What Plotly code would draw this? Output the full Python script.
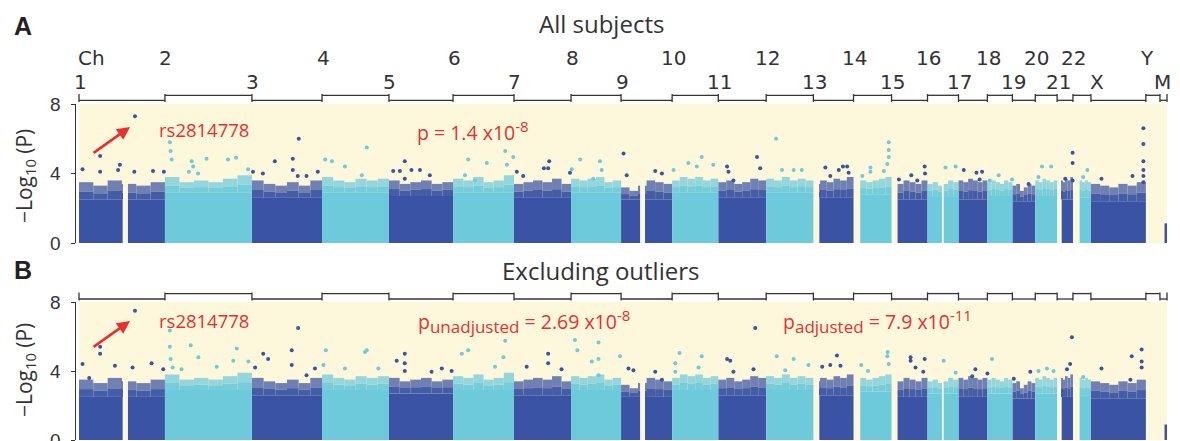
import plotly.graph_objects as go

# ---------------- data ----------------
chrom_names = ['1', '2', '3', '4', '5', '6', '7', '8', '9', '10', '11', '12', '13',
               '14', '15', '16', '17', '18', '19', '20', '21', '22', 'X', 'Y', 'M']
chrom_sizes_mb = [244, 247, 199, 190, 182, 173, 162, 142, 145, 131, 136, 134, 114,
                  108, 102, 88, 82, 71, 65, 62, 45, 51, 156, 40, 20]

# regions without plotted SNPs (Mb)
gap_chr = ['1', '9', '13', '14', '15', '16', '21', '22', 'Y', 'M']
gap_start = [124, 54, 0, 0, 0, 41, 0, 0, 0, 0]
gap_end = [139, 68, 17, 19, 17, 46, 13, 19, 40, 13]

# dense body of SNPs: solid level and ragged upper fringe (6 bins per chromosome)
core_A = [2.5, 2.9, 2.6, 2.9, 2.7, 2.9, 2.6, 2.9, 2.5, 2.9, 2.6, 2.9, 2.6,
          2.8, 2.5, 2.7, 2.5, 2.7, 2.4, 2.7, 2.5, 2.6, 2.4, 0, 1.13]
core_B = [2.5, 2.9, 2.6, 2.9, 2.7, 2.9, 2.6, 2.9, 2.5, 2.9, 2.6, 2.9, 2.6,
          2.8, 2.5, 2.7, 2.5, 2.7, 2.4, 2.7, 2.5, 2.6, 2.4, 0, 0.9]
fringe_top = [
    [3.5, 3.3, 3.6, 3.4, 3.3, 3.5], [3.8, 3.5, 3.6, 3.5, 3.7, 3.9],
    [3.6, 3.4, 3.3, 3.5, 3.3, 3.6], [3.8, 3.6, 3.5, 3.7, 3.6, 3.7],
    [3.6, 3.4, 3.5, 3.6, 3.4, 3.5], [3.7, 3.6, 3.8, 3.5, 3.6, 3.9],
    [3.4, 3.5, 3.6, 3.5, 3.7, 3.4], [3.7, 3.6, 3.7, 3.8, 3.5, 3.6],
    [3.2, 3.0, 3.3, 3.6, 3.5, 3.4], [3.6, 3.8, 3.7, 3.8, 3.6, 3.7],
    [3.5, 3.6, 3.4, 3.5, 3.7, 3.6], [3.7, 3.6, 3.8, 3.6, 3.7, 3.6],
    [3.4, 3.6, 3.5, 3.7, 3.6, 3.8], [3.3, 3.6, 3.5, 3.6, 3.7, 3.8],
    [3.5, 3.4, 3.6, 3.5, 3.4, 3.6], [3.4, 3.5, 3.3, 3.4, 3.6, 3.5],
    [3.6, 3.5, 3.7, 3.6, 3.5, 3.6], [3.5, 3.6, 3.5, 3.4, 3.6, 3.5],
    [3.3, 3.4, 3.0, 3.2, 3.4, 3.3], [3.6, 3.5, 3.7, 3.6, 3.5, 3.6],
    [3.5, 3.6, 3.5, 3.7, 3.6, 3.8], [3.4, 3.5, 3.6, 3.5, 3.6, 3.5],
    [3.4, 3.3, 3.2, 3.4, 3.3, 3.5], [0, 0, 0, 0, 0, 0], [0, 0, 0, 0, 0, 0]]

# individual SNPs standing above the body - panel A (all subjects)
A_chr = ['1'] * 9 + ['2'] * 11 + ['3'] * 9 + ['4'] * 5 + ['5'] * 7 + ['6'] * 7 + ['7'] * 6 + \
        ['8'] * 5 + ['9'] * 4 + ['10'] * 5 + ['11'] * 5 + ['12'] * 4 + ['13'] * 6 + ['14'] * 8 + \
        ['15'] * 5 + ['16'] * 2 + ['17'] * 4 + ['18'] * 3 + ['19'] * 1 + ['20'] * 3 + ['21'] * 4 + \
        ['22'] * 2 + ['X'] * 8
A_pos = [10, 60, 60, 116, 111, 159, 157, 210, 241,
         14, 16, 19, 76, 118, 179, 202, 236, 80, 68, 94,
         65, 116, 116, 133, 130, 155, 187, 3, 31,
         9, 28, 65, 127, 113,
         45, 12, 31, 64, 88, 116, 45,
         43, 96, 148, 153, 171, 34, 62,
         8, 100, 85, 97, 159, 26,
         26, 2, 82, 87, 63,
         7, 16, 97, 116,
         4, 46, 84, 70, 117,
         25, 29, 110, 119, 43,
         28, 45, 78, 101,
         34, 72, 84, 96, 100, 48,
         25, 48, 48, 100, 100, 100, 96, 86,
         21, 56, 73, 94, 95,
         51, 80,
         15, 51, 67, 60,
         32, 7, 70,
         46,
         19, 45, 9,
         44, 44, 23, 44,
         29, 41,
         30, 118, 149, 149, 149, 149, 149, 149]
A_logp = [4.25, 5.0, 4.1, 4.5, 4.2, 7.3, 4.1, 4.15, 4.1,
          5.8, 5.3, 4.8, 4.7, 4.85, 4.8, 4.9, 4.25, 4.4, 4.1, 4.0,
          4.7, 4.85, 4.2, 6.0, 3.85, 3.85, 4.1, 4.1, 4.0,
          4.8, 4.7, 4.4, 5.5, 3.9,
          4.7, 4.15, 4.15, 4.2, 4.2, 3.9, 3.7,
          4.8, 4.6, 5.3, 4.5, 4.95, 3.9, 3.6,
          4.1, 4.7, 4.3, 4.3, 4.05, 3.85,
          4.8, 4.25, 4.7, 4.2, 3.7,
          5.15, 3.9, 4.15, 4.0,
          4.2, 4.6, 4.95, 4.4, 4.5,
          4.4, 4.1, 4.95, 4.3, 3.6,
          6.0, 4.2, 4.2, 4.2,
          4.35, 4.2, 4.4, 4.4, 4.05, 3.85,
          3.85, 4.35, 4.1, 5.8, 5.35, 4.95, 4.55, 4.15,
          3.65, 3.9, 3.6, 4.4, 4.0,
          4.35, 4.4,
          4.2, 4.05, 4.1, 3.65,
          3.9, 3.6, 3.65,
          3.4,
          4.4, 4.4, 3.8,
          5.2, 4.6, 3.7, 3.6,
          3.8, 4.2,
          3.7, 3.85, 6.6, 5.7, 4.7, 4.2, 3.85, 3.5]

# panel B (excluding outliers)
B_chr = ['1'] * 9 + ['2'] * 11 + ['3'] * 8 + ['4'] * 6 + ['5'] * 7 + ['6'] * 5 + ['7'] * 4 + \
        ['8'] * 7 + ['9'] * 4 + ['10'] * 5 + ['11'] * 5 + ['12'] * 4 + ['13'] * 4 + ['14'] * 5 + \
        ['15'] * 5 + ['16'] * 2 + ['17'] * 3 + ['18'] * 1 + ['19'] * 2 + ['20'] * 3 + ['21'] * 3 + \
        ['22'] * 1 + ['X'] * 6
B_pos = [10, 60, 60, 29, 102, 159, 152, 206, 239,
         14, 14, 16, 73, 95, 204, 194, 22, 47, 147, 237,
         32, 46, 9, 113, 113, 131, 179, 155,
         11, 4, 65, 122, 127, 160,
         45, 45, 45, 22, 121, 150, 178,
         43, 25, 148, 143, 119,
         97, 97, 36, 135,
         11, 18, 78, 78, 59, 139, 78,
         21, 35, 97, 116,
         21, 9, 84, 75, 9,
         25, 34, 105, 100, 43,
         30, 78, 120, 54,
         67, 77, 25, 48,
         97, 96, 100, 22, 41,
         54, 54, 94, 68, 90,
         46, 80,
         48, 39, 82,
         13,
         51, 4,
         9, 33, 52,
         42, 37, 28,
         29,
         30, 116, 144, 144, 144, 112]
B_logp = [4.4, 5.4, 5.0, 3.6, 4.3, 7.5, 4.2, 4.45, 4.1,
          6.35, 5.4, 4.7, 5.5, 4.8, 5.3, 4.6, 4.2, 4.1, 4.25, 4.55,
          5.0, 4.7, 4.2, 5.2, 4.35, 6.5, 4.15, 3.75,
          5.2, 4.35, 4.15, 5.1, 5.2, 4.15,
          5.0, 4.45, 4.0, 4.6, 3.95, 4.15, 4.0,
          5.2, 5.0, 5.75, 4.8, 4.25,
          5.0, 4.45, 4.25, 4.1,
          5.8, 5.2, 5.65, 4.7, 4.55, 4.85, 3.75,
          4.15, 4.05, 3.95, 3.5,
          5.05, 4.45, 4.85, 4.2, 3.95,
          4.7, 4.6, 6.5, 4.1, 3.95,
          4.85, 4.7, 4.35, 4.05,
          4.9, 4.3, 4.25, 4.35,
          5.1, 4.85, 4.4, 4.35, 4.0,
          4.8, 4.6, 4.7, 4.2, 3.95,
          4.6, 3.9,
          4.1, 3.7, 3.85,
          4.7,
          3.95, 3.55,
          4.0, 4.15, 4.0,
          5.95, 4.4, 4.1,
          3.65,
          4.15, 4.85, 5.25, 4.55, 4.2, 3.5]

lead_snp = 'rs2814778'
lead_chr = '1'
lead_pos = 159
y_ticks = [0, 4, 8]

# ---------------- styling / layout ----------------
DARK = '#3A53A4'
LIGHT = '#6DCADB'
CREAM = '#FDF8DC'
RED = '#E8302E'
INK = '#333333'
W, H = 1180, 441

# mapping from screen pixels (as photographed; page has an 8px body margin) to paper fractions
SX0, SXS = 8.0, 1180.0
SY0, SYS = 8.0, 441.0


def fx(px):
    return (px - SX0) / SXS


def fy(py):
    return min(1.0, max(0.0, 1 - (py - SY0) / SYS))


offsets = []
acc = 0
for s in chrom_sizes_mb:
    offsets.append(acc)
    acc += s
total = acc
idx = {n: i for i, n in enumerate(chrom_names)}

px0, px1 = 79, 1167            # screen x of genome start / end
scale = (px1 - px0) / total
x_range = [-3 / scale, total + 2 / scale]
x_domain = [fx(px0 - 3), fx(px1 + 2)]

panels = {
    'A': dict(xa='x', ya='y', ydom=[fy(243), fy(104)], core=core_A,
              chr=A_chr, pos=A_pos, logp=A_logp, br_up=95.3, br_low=100.3,
              ytitle=176, lab=130, arrow_dy=-0.62),
    'B': dict(xa='x2', ya='y2', ydom=[fy(440), fy(302)], core=core_B,
              chr=B_chr, pos=B_pos, logp=B_logp, br_up=293.6, br_low=299.0,
              ytitle=370, lab=320, arrow_dy=-0.6),
}


def segments(name, size):
    gs = sorted([(s, e) for c, s, e in zip(gap_chr, gap_start, gap_end) if c == name])
    segs, cur = [], 0
    for s, e in gs:
        if s > cur:
            segs.append((cur, s))
        cur = max(cur, e)
    if cur < size:
        segs.append((cur, size))
    return segs


fig = go.Figure()
shapes = []
annotations = []

for key, P in panels.items():
    core = {0: dict(x=[], w=[], h=[]), 1: dict(x=[], w=[], h=[])}
    fr = {(k, layer): dict(x=[], w=[], b=[], h=[]) for k in (0, 1) for layer in (0, 1)}
    for i, name in enumerate(chrom_names):
        size = chrom_sizes_mb[i]
        shade = i % 2
        segs = segments(name, size)
        c = P['core'][i]
        for a, b in segs:
            if c > 0:
                core[shade]['x'].append(offsets[i] + (a + b) / 2)
                core[shade]['w'].append(b - a)
                core[shade]['h'].append(c)
        tops = fringe_top[i]
        nb = len(tops)
        for j, t in enumerate(tops):
            if t <= c:
                continue
            ba, bb = size * j / nb, size * (j + 1) / nb
            for a, b in segs:
                lo, hi = max(a, ba), min(b, bb)
                if hi <= lo:
                    continue
                mid = c + (t - c) * 0.45
                for layer, (base, top) in enumerate([(c, mid), (mid, t)]):
                    d = fr[(shade, layer)]
                    d['x'].append(offsets[i] + (lo + hi) / 2)
                    d['w'].append(hi - lo)
                    d['b'].append(base)
                    d['h'].append(top - base)
    for shade in (0, 1):
        col = DARK if shade == 0 else LIGHT
        fig.add_trace(go.Bar(x=core[shade]['x'], y=core[shade]['h'], width=core[shade]['w'], base=0,
                             marker=dict(color=col, line=dict(width=0)),
                             xaxis=P['xa'], yaxis=P['ya'], showlegend=False, hoverinfo='skip'))
        for layer, op in ((0, 0.94), (1, 0.72)):
            d = fr[(shade, layer)]
            fig.add_trace(go.Bar(x=d['x'], y=d['h'], width=d['w'], base=d['b'],
                                 marker=dict(color=col, line=dict(width=0)), opacity=op,
                                 xaxis=P['xa'], yaxis=P['ya'], showlegend=False, hoverinfo='skip'))
    xs, ys, cs = [], [], []
    for c_, p_, v_ in zip(P['chr'], P['pos'], P['logp']):
        i = idx[c_]
        xs.append(offsets[i] + p_)
        ys.append(v_)
        cs.append(DARK if i % 2 == 0 else LIGHT)
    fig.add_trace(go.Scatter(x=xs, y=ys, mode='markers',
                             marker=dict(color=cs, size=4, line=dict(width=0)),
                             xaxis=P['xa'], yaxis=P['ya'], showlegend=False, hoverinfo='skip'))

    # cream plotting background
    shapes.append(dict(type='rect', xref=P['xa'], yref=P['ya'], x0=0, x1=total, y0=0, y1=8.05,
                       fillcolor=CREAM, line=dict(width=0), layer='below'))
    # chromosome brackets
    up, low = fy(P['br_up']), fy(P['br_low'])
    for i in range(len(chrom_names)):
        lev = low if i % 2 == 0 else up
        shapes.append(dict(type='line', xref=P['xa'], yref='paper',
                           x0=offsets[i], x1=offsets[i] + chrom_sizes_mb[i], y0=lev, y1=lev,
                           line=dict(color=INK, width=1.3)))
    for j in range(len(chrom_names) + 1):
        xb = offsets[j] if j < len(chrom_names) else total
        shapes.append(dict(type='line', xref=P['xa'], yref='paper', x0=xb, x1=xb,
                           y0=fy(P['br_up'] - 1.2), y1=fy(P['br_low'] + 1.6),
                           line=dict(color=INK, width=1.3)))

    # y tick labels
    for v in y_ticks:
        annotations.append(dict(text=str(v), x=fx(55.5), y=v, xref='paper', yref=P['ya'],
                                xanchor='center', yanchor='middle', showarrow=False,
                                font=dict(family='Liberation Sans', size=19, color=INK)))

    annotations.append(dict(text='\u2212Log<sub>10</sub> (P)', x=fx(25), y=fy(P['ytitle']),
                            xref='paper', yref='paper', xanchor='center', yanchor='middle',
                            textangle=-90, showarrow=False,
                            font=dict(family='Open Sans', size=21, color=INK)))
    annotations.append(dict(text=lead_snp, x=fx(204), y=fy(P['lab']), xref='paper', yref='paper',
                            xanchor='center', yanchor='middle', showarrow=False,
                            font=dict(family='Open Sans', size=18.5, color=RED)))
    snp_val = [v for c_, p_, v in zip(P['chr'], P['pos'], P['logp'])
               if c_ == lead_chr and p_ == lead_pos][0]
    annotations.append(dict(text='', x=offsets[idx[lead_chr]] + lead_pos - 14,
                            y=snp_val + P['arrow_dy'], xref=P['xa'], yref=P['ya'],
                            showarrow=True, ax=-38, ay=27,
                            arrowcolor=RED, arrowwidth=2.6, arrowhead=2, arrowsize=1))

SUB = '<sub><span style="font-size:17px">%s</span></sub>'
SUP = '<sup><span style="font-size:15px">%s</span></sup>'
annotations += [
    dict(text='<b>A</b>', x=fx(12), y=fy(26), xref='paper', yref='paper', xanchor='left',
         yanchor='middle', showarrow=False, font=dict(family='Liberation Sans', size=25, color='#222')),
    dict(text='<b>B</b>', x=fx(12), y=fy(270), xref='paper', yref='paper', xanchor='left',
         yanchor='middle', showarrow=False, font=dict(family='Liberation Sans', size=25, color='#222')),
    dict(text='All subjects', x=fx(601), y=fy(24), xref='paper', yref='paper', xanchor='center',
         yanchor='middle', showarrow=False, font=dict(family='Open Sans', size=24, color=INK)),
    dict(text='Excluding outliers', x=fx(600), y=fy(270), xref='paper', yref='paper',
         xanchor='center', yanchor='middle', showarrow=False,
         font=dict(family='Open Sans', size=24, color=INK)),
    dict(text='p = 1.4 x10' + SUP % '-8', x=fx(415), y=fy(131), xref='paper', yref='paper',
         xanchor='left', yanchor='middle', showarrow=False,
         font=dict(family='Open Sans', size=19.5, color=RED)),
    dict(text='p' + SUB % 'unadjusted' + ' = 2.69 x10' + SUP % '-8', x=fx(416), y=fy(321),
         xref='paper', yref='paper', xanchor='left', yanchor='middle', showarrow=False,
         font=dict(family='Open Sans', size=19.5, color=RED)),
    dict(text='p' + SUB % 'adjusted' + ' = 7.9 x10' + SUP % '-11', x=fx(781), y=fy(321),
         xref='paper', yref='paper', xanchor='left', yanchor='middle', showarrow=False,
         font=dict(family='Open Sans', size=19.5, color=RED)),
    dict(text='Ch', x=fx(76), y=fy(58), xref='paper', yref='paper', xanchor='left',
         yanchor='middle', showarrow=False, font=dict(family='DejaVu Sans', size=20, color=INK)),
]
label_shift = {'X': 6, 'M': 3}
for i, name in enumerate(chrom_names):
    row = 82 if i % 2 == 0 else 58
    annotations.append(dict(text=name, x=offsets[i], y=fy(row), xref='x', yref='paper',
                            xanchor='center', yanchor='middle',
                            xshift=label_shift.get(name, 1), showarrow=False,
                            font=dict(family='DejaVu Sans', size=20, color=INK)))

axis_common_x = dict(domain=x_domain, range=x_range, showgrid=False, zeroline=False,
                     showticklabels=False, ticks='', showline=False, fixedrange=True,
                     automargin=False)
axis_common_y = dict(range=[0, 8], tickvals=y_ticks, ticks='outside', ticklen=4, tickwidth=1.3,
                     tickcolor=INK, showline=True, linecolor=INK, linewidth=1.3, showgrid=False,
                     zeroline=False, showticklabels=False, automargin=False)

fig.update_layout(
    width=W, height=H, margin=dict(l=0, r=0, t=0, b=0, autoexpand=False),
    paper_bgcolor='white', plot_bgcolor='rgba(0,0,0,0)',
    barmode='overlay', showlegend=False,
    xaxis=dict(anchor='y', **axis_common_x),
    xaxis2=dict(anchor='y2', **axis_common_x),
    yaxis=dict(anchor='x', domain=panels['A']['ydom'], **axis_common_y),
    yaxis2=dict(anchor='x2', domain=panels['B']['ydom'], **axis_common_y),
    shapes=shapes, annotations=annotations,
)

fig.write_html('out.html')
